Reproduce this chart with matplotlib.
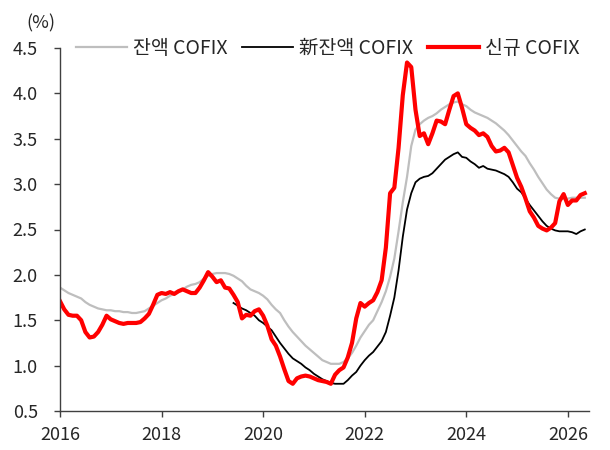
import matplotlib
matplotlib.use("Agg")
import matplotlib.pyplot as plt
import numpy as np

plt.rcParams['font.family'] = ['Noto Sans CJK KR', 'DejaVu Sans']

start_year = 2016
# monthly values, Jan 2016 onward
balance_cofix = [
    1.86, 1.83, 1.80, 1.78, 1.76, 1.74, 1.70, 1.67, 1.65, 1.63,
    1.62, 1.61, 1.61, 1.60, 1.60, 1.59, 1.59, 1.58, 1.58, 1.59,
    1.60, 1.63, 1.66, 1.69, 1.72, 1.74, 1.77, 1.79, 1.82, 1.84,
    1.87, 1.89, 1.90, 1.92, 1.96, 1.99, 2.01, 2.02, 2.02, 2.02,
    2.01, 1.99, 1.96, 1.93, 1.88, 1.84, 1.82, 1.80, 1.77, 1.73,
    1.67, 1.62, 1.58, 1.50, 1.43, 1.37, 1.32, 1.27, 1.22, 1.18,
    1.14, 1.10, 1.06, 1.04, 1.02, 1.02, 1.02, 1.04, 1.08, 1.14,
    1.22, 1.31, 1.38, 1.45, 1.50, 1.60, 1.70, 1.82, 1.98, 2.18,
    2.48, 2.80, 3.08, 3.42, 3.60, 3.66, 3.70, 3.73, 3.75, 3.78,
    3.82, 3.85, 3.88, 3.90, 3.91, 3.88, 3.86, 3.82, 3.79, 3.77,
    3.75, 3.73, 3.70, 3.67, 3.63, 3.59, 3.54, 3.48, 3.42, 3.36,
    3.31, 3.23, 3.16, 3.08, 3.01, 2.94, 2.89, 2.85, 2.84, 2.84,
    2.84, 2.85, 2.85, 2.85, 2.85,
]

new_balance_start = 41  # month index (Jun 2019)
new_balance_cofix = [
    1.69, 1.66, 1.63, 1.61, 1.58, 1.55, 1.50, 1.47, 1.43, 1.39,
    1.32, 1.25, 1.19, 1.13, 1.08, 1.05, 1.02, 0.98, 0.95, 0.91,
    0.88, 0.85, 0.83, 0.81, 0.80, 0.80, 0.80, 0.84, 0.89, 0.93,
    1.00, 1.06, 1.11, 1.15, 1.21, 1.27, 1.37, 1.55, 1.75, 2.05,
    2.42, 2.72, 2.90, 3.02, 3.06, 3.08, 3.09, 3.12, 3.17, 3.22,
    3.27, 3.30, 3.33, 3.35, 3.30, 3.29, 3.25, 3.22, 3.18, 3.20,
    3.17, 3.16, 3.15, 3.13, 3.11, 3.08, 3.02, 2.95, 2.91, 2.84,
    2.77, 2.71, 2.65, 2.59, 2.54, 2.51, 2.49, 2.48, 2.48, 2.48,
    2.47, 2.45, 2.48, 2.50,
]

new_cofix = [
    1.71, 1.62, 1.56, 1.55, 1.55, 1.50, 1.37, 1.31, 1.32, 1.37,
    1.45, 1.55, 1.51, 1.49, 1.47, 1.46, 1.47, 1.47, 1.47, 1.48,
    1.52, 1.57, 1.67, 1.78, 1.80, 1.79, 1.81, 1.79, 1.82, 1.84,
    1.82, 1.80, 1.80, 1.86, 1.94, 2.03, 1.98, 1.92, 1.94, 1.86,
    1.85, 1.78, 1.70, 1.52, 1.56, 1.55, 1.60, 1.62, 1.55, 1.44,
    1.29, 1.22, 1.10, 0.96, 0.83, 0.80, 0.86, 0.88, 0.89, 0.88,
    0.86, 0.84, 0.83, 0.82, 0.80, 0.90, 0.95, 0.98, 1.09, 1.25,
    1.52, 1.69, 1.65, 1.69, 1.72, 1.81, 1.94, 2.30, 2.90, 2.96,
    3.40, 3.98, 4.34, 4.29, 3.82, 3.53, 3.56, 3.44, 3.56, 3.70,
    3.69, 3.66, 3.82, 3.97, 4.00, 3.84, 3.66, 3.62, 3.59, 3.54,
    3.56, 3.52, 3.42, 3.36, 3.37, 3.40, 3.35, 3.21, 3.07, 2.97,
    2.84, 2.70, 2.63, 2.54, 2.51, 2.49, 2.52, 2.57, 2.81, 2.89,
    2.77, 2.82, 2.82, 2.88, 2.90,
]

series_labels = ['잔액 COFIX', '新잔액 COFIX', '신규 COFIX']
x_ticks = [2016, 2018, 2020, 2022, 2024, 2026]
y_ticks = [0.5, 1.0, 1.5, 2.0, 2.5, 3.0, 3.5, 4.0, 4.5]

x_all = start_year + np.arange(len(balance_cofix)) / 12.0
x_new_bal = start_year + (new_balance_start + np.arange(len(new_balance_cofix))) / 12.0
x_new = start_year + np.arange(len(new_cofix)) / 12.0

fig = plt.figure(figsize=(6.1, 4.5), dpi=100)
ax = fig.add_axes([60/610, 39/450, 529/610, 363/450])

text_color = '#262626'
ax.plot(x_all, balance_cofix, color='#BEBEBE', lw=1.6, label=series_labels[0])
ax.plot(x_new_bal, new_balance_cofix, color='black', lw=1.3, label=series_labels[1])
ax.plot(x_new, new_cofix, color='#FF0000', lw=3.0, label=series_labels[2])

ax.set_xlim(2016, 2016 + 125/12)
ax.set_ylim(0.5, 4.5)
ax.set_xticks(x_ticks)
ax.set_xticklabels([str(t) for t in x_ticks])
ax.set_yticks(y_ticks)
ax.set_yticklabels([f'{v:.1f}' for v in y_ticks])

for s in ['top', 'right']:
    ax.spines[s].set_visible(False)
for s in ['left', 'bottom']:
    ax.spines[s].set_color('#404040')
    ax.spines[s].set_linewidth(1.0)

ax.tick_params(axis='both', direction='out', length=4, width=1.0, color='#404040',
               labelsize=13, labelcolor=text_color)
ax.tick_params(axis='y', pad=12)
ax.tick_params(axis='x', pad=7)

leg = ax.legend(loc='center left', bbox_to_anchor=(0.03, 1.0), ncol=3, frameon=False,
                fontsize=14, handlelength=2.63, handletextpad=0.31, columnspacing=0.75,
                borderpad=0, borderaxespad=0)
for t in leg.get_texts():
    t.set_color(text_color)

fig.text(26/610, 1 - 23/450, '(%)', ha='left', va='center', fontsize=13, color=text_color)

fig.savefig('out.png', dpi=100)
